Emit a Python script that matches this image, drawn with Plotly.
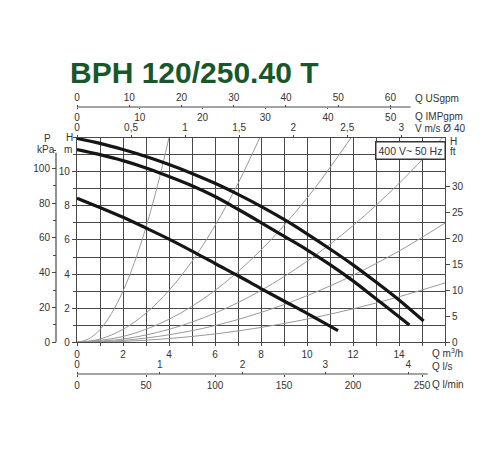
import plotly.graph_objects as go

# pump curves: Q in m3/h, H in m
q_max = [0, 1, 2, 3, 4, 5, 6, 7, 8, 9, 10, 11, 12, 13, 14, 15.07]
h_max = [11.95, 11.66, 11.3, 10.89, 10.42, 9.9, 9.32, 8.67, 7.97, 7.2, 6.36, 5.47, 4.54, 3.53, 2.48, 1.25]
q_mid = [0, 1, 2, 3, 4, 5, 6, 7, 8, 9, 10, 11, 12, 13, 14, 14.45]
h_mid = [11.3, 11.0, 10.65, 10.22, 9.72, 9.18, 8.55, 7.8, 7.02, 6.22, 5.42, 4.55, 3.6, 2.55, 1.5, 1.02]
q_min = [0, 1, 2, 3, 4, 5, 6, 7, 8, 9, 10, 11, 11.35]
h_min = [8.45, 7.9, 7.33, 6.7, 6.05, 5.35, 4.62, 3.9, 3.15, 2.42, 1.7, 0.95, 0.68]

# grey system curves
sys_q_a = [0, 0.5, 1, 1.5, 2, 2.5, 3, 3.5, 4]
sys_h_a = [0, 0.19, 0.75, 1.69, 3.0, 4.69, 6.75, 9.19, 12.0]
sys_q_b = [0, 1, 2, 3, 4, 5, 6, 7, 7.95]
sys_h_b = [0, 0.19, 0.76, 1.71, 3.04, 4.75, 6.84, 9.31, 12.0]
sys_q_c = [0, 2, 4, 6, 8, 10, 11.92]
sys_h_c = [0, 0.34, 1.35, 3.04, 5.41, 8.45, 12.0]
sys_q_d = [0, 2, 4, 6, 8, 10, 12, 14, 15.9]
sys_h_d = [0, 0.19, 0.76, 1.71, 3.04, 4.75, 6.84, 9.31, 12.0]
sys_q_e = [0, 2, 4, 6, 8, 10, 12, 14, 16]
sys_h_e = [0, 0.11, 0.44, 0.98, 1.75, 2.73, 3.93, 5.35, 6.99]
sys_q_f = [0, 2, 4, 6, 8, 10, 12, 14, 16]
sys_h_f = [0, 0.05, 0.22, 0.49, 0.87, 1.36, 1.96, 2.67, 3.48]

# tick labels of the extra scales
h_ticks = [0, 2, 4, 6, 8, 10]
q_ticks = [0, 2, 4, 6, 8, 10, 12, 14]
ft_ticks = [0, 5, 10, 15, 20, 25, 30]
kpa_ticks = [0, 20, 40, 60, 80, 100]
usgpm_ticks = [0, 10, 20, 30, 40, 50, 60]
impgpm_ticks = [0, 10, 20, 30, 40, 50]
v_ticks = [0, 0.5, 1, 1.5, 2, 2.5, 3]
v_text = ["0", "0,5", "1", "1,5", "2", "2,5", "3"]
ls_ticks = [0, 1, 2, 3, 4]
lmin_ticks = [0, 50, 100, 150, 200, 250]

# page body has an 8px margin, so the figure sits at (8, 8) in the window
W, H = 492, 442
def px(x): return (x - 8) / W
def py(y): return 1 - (y - 8) / H

GRID = "#484848"
FONT = "Liberation Sans, Arial, sans-serif"
TF = dict(family=FONT, size=10, color="#333")

fig = go.Figure()

for q, h in [(sys_q_a, sys_h_a), (sys_q_b, sys_h_b), (sys_q_c, sys_h_c),
             (sys_q_d, sys_h_d), (sys_q_e, sys_h_e), (sys_q_f, sys_h_f)]:
    fig.add_trace(go.Scatter(x=q, y=h, mode="lines", line=dict(color="#999", width=1, shape="spline"),
                             hoverinfo="skip"))

for q, h in [(q_max, h_max), (q_mid, h_mid), (q_min, h_min)]:
    fig.add_trace(go.Scatter(x=q, y=h, mode="lines", line=dict(color="#151515", width=3.2, shape="spline")))

# empty traces so the extra scales get drawn
for ax in ["x2", "x3", "x4", "x5", "x6"]:
    fig.add_trace(go.Scatter(x=[None], y=[None], xaxis=ax, yaxis="y", hoverinfo="skip"))
fig.add_trace(go.Scatter(x=[None], y=[None], xaxis="x", yaxis="y2", hoverinfo="skip"))
fig.add_trace(go.Scatter(x=[None], y=[None], xaxis="x", yaxis="y3", hoverinfo="skip"))

aux = dict(showgrid=False, zeroline=False, showline=False, ticks="outside", ticklen=2,
           tickcolor=GRID, tickfont=TF, overlaying="x", anchor="free", automargin=False)

fig.update_layout(
    width=W, height=H, margin=dict(l=0, r=0, t=0, b=0),
    paper_bgcolor="white", plot_bgcolor="white", showlegend=False,
    xaxis=dict(domain=[px(77), px(445)], range=[0, 16], tickvals=q_ticks, ticks="outside", ticklen=3,
               tickcolor=GRID, showgrid=True, gridcolor=GRID, gridwidth=1.2, zeroline=False,
               minor=dict(dtick=1, showgrid=True, gridcolor=GRID, gridwidth=1.2, ticks="outside",
                          ticklen=3, tickcolor=GRID),
               showline=True, linecolor=GRID, linewidth=1.2, mirror=True, tickfont=TF, anchor="y",
               automargin=False),
    yaxis=dict(domain=[py(342.3), py(137.6)], range=[0, 12], tickvals=h_ticks, ticks="outside", ticklen=4,
               tickcolor=GRID, showgrid=True, gridcolor=GRID, gridwidth=1.2, zeroline=False,
               minor=dict(dtick=1, showgrid=True, gridcolor=GRID, gridwidth=1.2, ticks="outside",
                          ticklen=3, tickcolor=GRID),
               showline=True, linecolor=GRID, linewidth=1.2, mirror=True, tickfont=TF, anchor="x",
               automargin=False),
    yaxis2=dict(overlaying="y", side="right", anchor="x", range=[0, 12 / 0.3048], tickvals=ft_ticks,
                ticks="outside", ticklen=4, tickcolor=GRID, showgrid=False, zeroline=False, tickfont=TF,
                automargin=False),
    yaxis3=dict(overlaying="y", side="left", anchor="free", position=px(56), range=[0, 12 * 9.80665],
                tickvals=kpa_ticks, ticks="outside", ticklen=4, tickcolor=GRID, showgrid=False,
                zeroline=False, showline=False, tickfont=TF, automargin=False,
                minor=dict(dtick=10, ticks="outside", ticklen=3, tickcolor=GRID)),
    xaxis2=dict(aux, side="top", position=py(107), range=[0, 16 * 4.4029], tickvals=usgpm_ticks),
    xaxis3=dict(aux, side="bottom", position=py(107), range=[0, 16 * 3.6662], tickvals=impgpm_ticks,
                ticklen=1),
    xaxis4=dict(aux, side="top", position=py(137.6), range=[0, 16 / 4.7], tickvals=v_ticks, ticktext=v_text,
                ticklen=3),
    xaxis5=dict(aux, side="top", position=py(374), range=[0, 16 / 3.6], tickvals=ls_ticks),
    xaxis6=dict(aux, side="bottom", position=py(374), range=[0, 16 / 0.06], tickvals=lmin_ticks),
)

# axis lines of the extra scales
fig.add_shape(type="line", xref="x", yref="paper", x0=0, x1=14.5, y0=py(107), y1=py(107),
              line=dict(color=GRID, width=1.2))
fig.add_shape(type="line", xref="x", yref="paper", x0=0, x1=15.25, y0=py(374), y1=py(374),
              line=dict(color=GRID, width=1.2))
fig.add_shape(type="line", xref="paper", yref="y3", x0=px(56), x1=px(56), y0=0, y1=109,
              line=dict(color=GRID, width=1.2))

def label(text, x, y, anchor="left", size=10, **kw):
    fig.add_annotation(text=text, x=px(x), y=py(y), xref="paper", yref="paper", showarrow=False,
                       xanchor=anchor, yanchor="middle", font=dict(family=FONT, size=size, color="#333"), **kw)

label("Q USgpm", 413, 99)
label("Q IMPgpm", 413, 116)
label("V m/s Ø 40", 413, 128.5)
label("H", 448, 141)
label("ft", 448, 152)
label("P", 47, 138, "center")
label("kPa", 46, 149, "center")
label("H", 69, 137, "center")
label("m", 68, 149, "center")
label("Q m<sup>3</sup>/h", 430, 353)
label("Q l/s", 430, 366)
label("Q l/min", 430, 384)
label("400 V~ 50 Hz", 410.5, 150, "center", size=10.5, bgcolor="white", bordercolor="#333",
      borderwidth=1.5, borderpad=2)

fig.add_annotation(text="<b>BPH 120/250.40 T</b>", x=px(193.5), y=py(72), xref="paper", yref="paper",
                   xanchor="center", yanchor="middle", showarrow=False,
                   font=dict(family=FONT, size=30, color="#17572b"))

fig.write_html("out.html")
